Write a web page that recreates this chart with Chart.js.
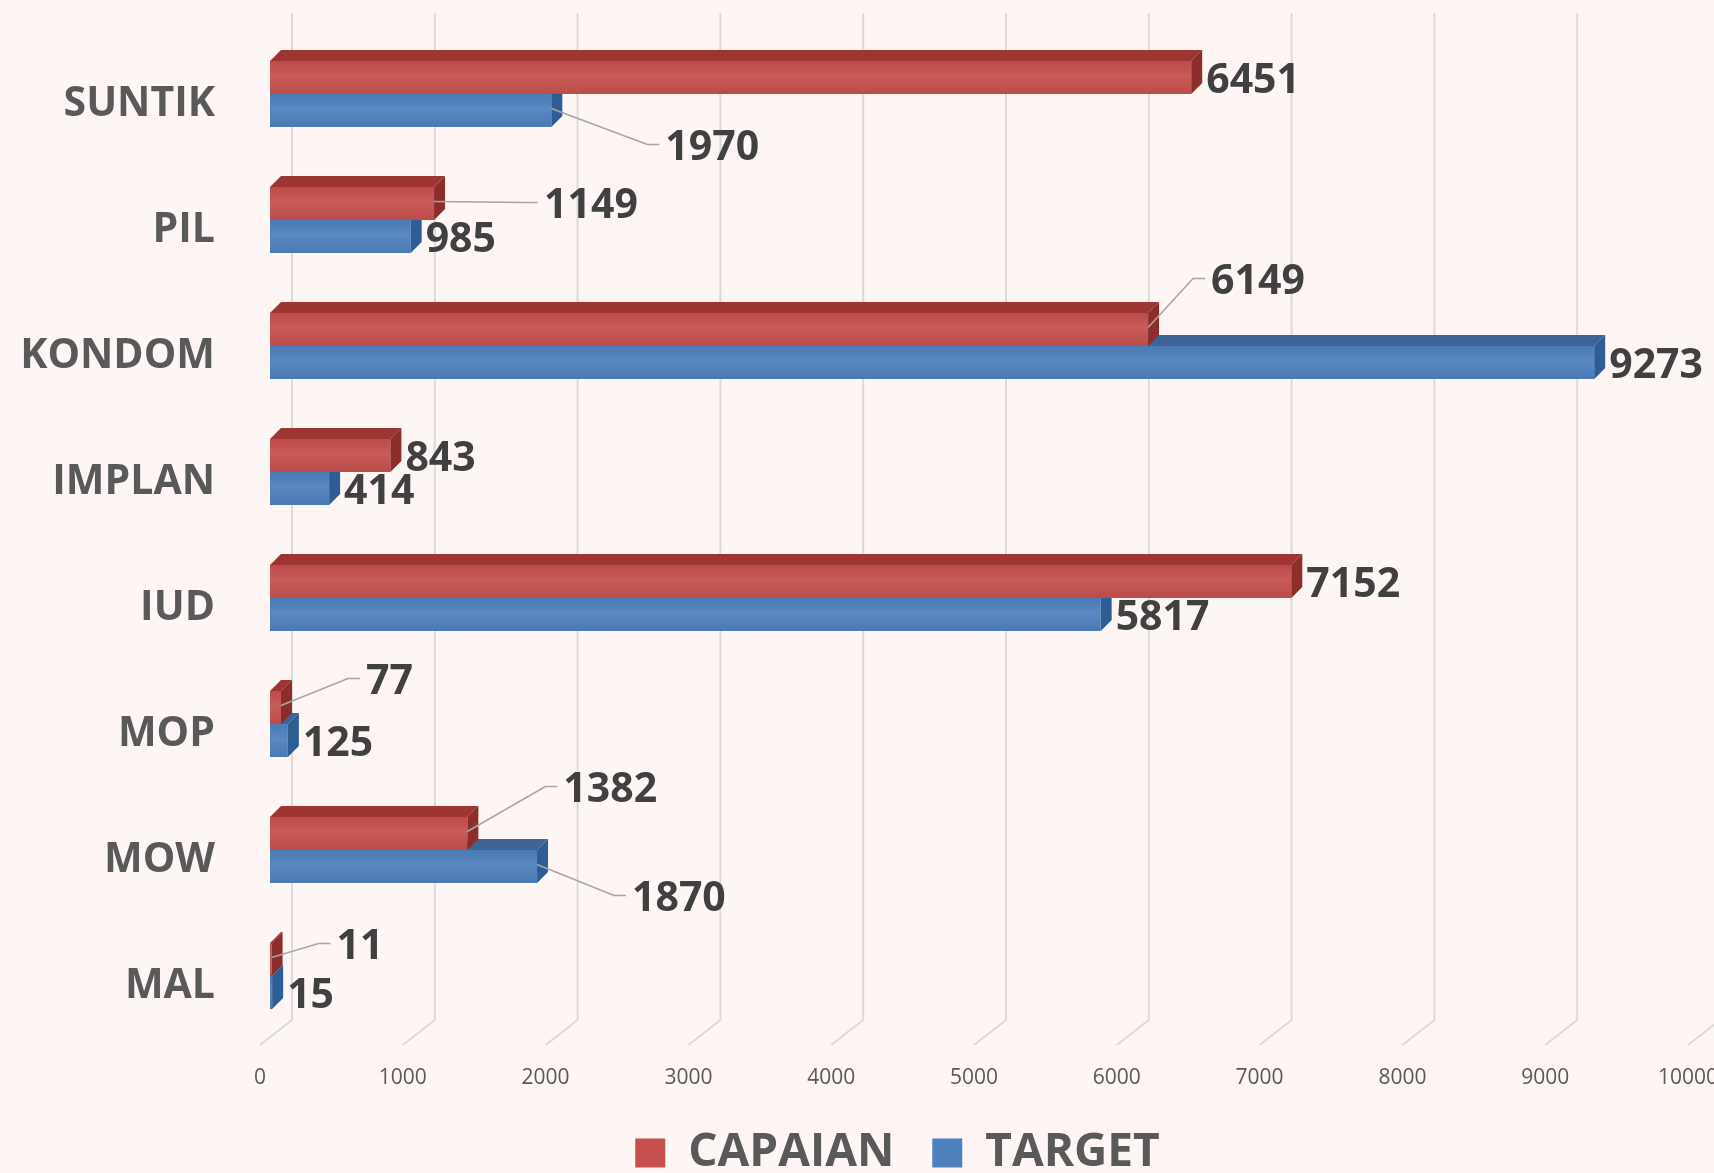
<!DOCTYPE html>
<html>
<head>
<meta charset="utf-8">
<script src="https://cdn.jsdelivr.net/npm/chart.js@4.4.1/dist/chart.umd.min.js"></script>
<style>
html,body{margin:0;padding:0;background:#FEF5F5;overflow:hidden}
canvas{display:block}
</style>
</head>
<body>
<canvas id="c" width="1714" height="1173"></canvas>
<script>
// ---- data ----
const categories = ['SUNTIK', 'PIL', 'KONDOM', 'IMPLAN', 'IUD', 'MOP', 'MOW', 'MAL'];
const capaian = [6451, 1149, 6149, 843, 7152, 77, 1382, 11];
const target = [1970, 985, 9273, 414, 5817, 125, 1870, 15];
const seriesNames = ['CAPAIAN', 'TARGET'];
const xTickValues = [0, 1000, 2000, 3000, 4000, 5000, 6000, 7000, 8000, 9000, 10000];

// ---- styling ----
const FONT = '"Open Sans", "Noto Sans", "Liberation Sans", sans-serif';
const FRONT = ['#C5504D', '#4E80BE'];
const TOPFACE = ['#9D3533', '#3C6595'];
const SIDEFACE = ['#8C2D2B', '#2E5C94'];
const DEPTH = 11;
const LABEL_DY = 4;
// label nudges for labels that sit away from their bar (series:index -> [dx from bar end, dy from bar centre])
const LABEL_NUDGE = {
  '1:0': [114, 34],
  '0:1': [110, -1],
  '0:2': [63, -51],
  '0:5': [85, -29],
  '0:6': [96, -47],
  '1:6': [95, 29],
  '0:7': [65, -16]
};

const bar3d = {
  id: 'bar3d',
  afterLayout(chart) {
    // place the legend row like the original (slightly right of centre, close to the bottom edge)
    chart.legend.left = 97;
    chart.legend.top = chart.height - 81;
  },
  beforeDraw(chart) {
    const {ctx, width, height} = chart;
    ctx.save();
    ctx.fillStyle = '#FEF5F5';
    ctx.fillRect(0, 0, width, height);
    ctx.restore();
  },
  beforeDatasetsDraw(chart) {
    const {ctx, chartArea: {top, bottom}, scales: {x}} = chart;
    ctx.save();
    ctx.strokeStyle = '#DADADA';
    ctx.lineWidth = 2;
    x.ticks.forEach(t => {
      const px = x.getPixelForValue(t.value);
      ctx.beginPath();
      ctx.moveTo(px + 22, top - 18);
      ctx.lineTo(px + 22, bottom - 19);
      ctx.lineTo(px - 10, bottom + 6);
      ctx.stroke();
    });
    ctx.restore();
  },
  afterDatasetDraw(chart, args) {
    const {ctx} = chart;
    const di = args.index;
    ctx.save();
    args.meta.data.forEach(el => {
      const p = el.getProps(['x', 'y', 'base', 'height'], true);
      const x0 = p.base, x1 = p.x, yT = p.y - p.height / 2, yB = p.y + p.height / 2;
      const g = ctx.createLinearGradient(0, yT, 0, yB);
      g.addColorStop(0, 'rgba(0,0,0,0.04)');
      g.addColorStop(0.45, 'rgba(255,255,255,0.07)');
      g.addColorStop(1, 'rgba(0,0,0,0.05)');
      ctx.fillStyle = g;
      ctx.fillRect(x0, yT, x1 - x0, yB - yT);
      ctx.fillStyle = TOPFACE[di];
      ctx.beginPath();
      ctx.moveTo(x0, yT);
      ctx.lineTo(x0 + DEPTH, yT - DEPTH);
      ctx.lineTo(x1 + DEPTH, yT - DEPTH);
      ctx.lineTo(x1, yT);
      ctx.closePath();
      ctx.fill();
      ctx.fillStyle = SIDEFACE[di];
      ctx.beginPath();
      ctx.moveTo(x1, yT);
      ctx.lineTo(x1 + DEPTH, yT - DEPTH);
      ctx.lineTo(x1 + DEPTH, yB - DEPTH);
      ctx.lineTo(x1, yB);
      ctx.closePath();
      ctx.fill();
    });
    ctx.restore();
  },
  afterDatasetsDraw(chart) {
    const {ctx} = chart;
    ctx.save();
    ctx.font = 'bold 41px ' + FONT;
    ctx.textAlign = 'left';
    ctx.textBaseline = 'middle';
    chart.data.datasets.forEach((ds, di) => {
      const meta = chart.getDatasetMeta(di);
      meta.data.forEach((el, i) => {
        const p = el.getProps(['x', 'y'], true);
        const nudge = LABEL_NUDGE[di + ':' + i];
        let lx, ly;
        if (nudge) {
          lx = p.x + nudge[0];
          ly = p.y + nudge[1];
          ctx.strokeStyle = '#A6A6A6';
          ctx.lineWidth = 1.6;
          ctx.beginPath();
          ctx.moveTo(p.x, p.y - 2);
          ctx.lineTo(lx - 18, ly);
          ctx.lineTo(lx - 6, ly);
          ctx.stroke();
        } else {
          lx = p.x + DEPTH + 4;
          ly = p.y;
        }
        ctx.fillStyle = '#404040';
        ctx.fillText(String(ds.data[i]), lx, ly + LABEL_DY);
      });
    });
    ctx.restore();
  }
};

new Chart(document.getElementById('c'), {
  type: 'bar',
  data: {
    labels: categories,
    datasets: [
      {label: seriesNames[0], data: capaian, backgroundColor: FRONT[0], borderWidth: 0},
      {label: seriesNames[1], data: target, backgroundColor: FRONT[1], borderWidth: 0}
    ]
  },
  options: {
    indexAxis: 'y',
    responsive: false,
    devicePixelRatio: 1,
    animation: false,
    barPercentage: 1,
    categoryPercentage: 0.524,
    layout: {padding: {top: 31, left: 0, right: 16, bottom: 0}},
    scales: {
      x: {
        type: 'linear',
        min: 0,
        max: 10000,
        afterBuildTicks(scale) { scale.ticks = xTickValues.map(v => ({value: v})); },
        afterFit(scale) { scale.height = 60; scale.paddingLeft = 0; scale.paddingRight = 0; },
        grid: {display: false, drawTicks: false},
        border: {display: false},
        ticks: {
          autoSkip: false,
          maxRotation: 0,
          padding: 26,
          labelOffset: -10,
          color: '#595959',
          font: {family: FONT, size: 21},
          callback: v => String(v)
        }
      },
      y: {
        afterFit(scale) { scale.width = 270; scale.paddingTop = 0; scale.paddingBottom = 0; },
        grid: {display: false, drawTicks: false},
        border: {display: false},
        ticks: {
          padding: 55,
          labelOffset: 10,
          color: '#595959',
          font: {family: FONT, size: 41, weight: 'bold'}
        }
      }
    },
    plugins: {
      tooltip: {enabled: false},
      legend: {
        position: 'bottom',
        maxHeight: 74,
        labels: {
          boxWidth: 30,
          boxHeight: 29,
          padding: 38,
          color: '#595959',
          font: {family: FONT, size: 46, weight: 'bold'}
        }
      }
    }
  },
  plugins: [bar3d]
});
</script>
</body>
</html>
